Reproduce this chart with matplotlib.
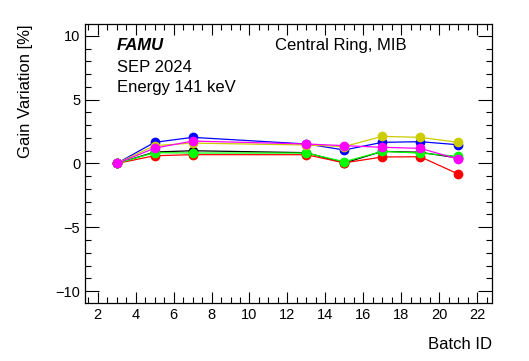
import matplotlib
matplotlib.use("Agg")
import matplotlib.pyplot as plt
from matplotlib.ticker import MultipleLocator

plt.rcParams['font.family'] = ['Liberation Sans', 'DejaVu Sans']

batch = [3, 5, 7, 13, 15, 17, 19, 21]

# gain variation [%] per channel
black = [0.0, 0.90, 1.00, 0.85, 0.04, 0.95, 0.88, 0.43]
red = [0.0, 0.61, 0.69, 0.69, 0.05, 0.51, 0.53, -0.82]
green = [0.0, 0.85, 0.82, 0.82, 0.14, 0.95, 0.82, 0.56]
blue = [0.0, 1.66, 2.05, 1.53, 1.06, 1.66, 1.71, 1.47]
yellow = [0.0, 1.40, 1.60, 1.45, 1.33, 2.13, 2.05, 1.66]
magenta = [0.0, 1.20, 1.76, 1.53, 1.40, 1.27, 1.19, 0.35]

series = [
    (black, 'black'),
    (red, '#ff0000'),
    (green, '#00ff00'),
    (blue, '#0000ff'),
    (yellow, '#cccc00'),
    (magenta, '#ff00ff'),
]

fig = plt.figure(figsize=(5.29, 3.61), dpi=100)
ax = fig.add_axes([0.1607, 0.1607, 0.7688, 0.7728])

for vals, col in series:
    ax.plot(batch, vals, color=col, lw=0.9, marker='o', ms=6, mec=col, mfc=col)

ax.set_xlim(1.33, 22.77)
ax.set_ylim(-10.94, 10.94)
ax.xaxis.set_major_locator(MultipleLocator(2))
ax.xaxis.set_minor_locator(MultipleLocator(0.5))
ax.yaxis.set_major_locator(MultipleLocator(5))
ax.yaxis.set_minor_locator(MultipleLocator(1))
ax.tick_params(which='both', direction='in', top=True, right=True, labelsize=10.5, width=0.8)
ax.tick_params(which='major', length=8)
ax.tick_params(which='minor', length=4)
ax.tick_params(axis='y', which='major', length=10)
for s in ax.spines.values():
    s.set_linewidth(0.9)

ax.set_xlabel('Batch ID', fontsize=12, loc='right', labelpad=11)
ax.set_ylabel('Gain Variation [%]', fontsize=12, loc='top', labelpad=16)

fig.text(0.2205, 0.8726, 'FAMU', fontsize=12, fontweight='bold', fontstyle='italic', va='center')
fig.text(0.2205, 0.8135, 'SEP 2024', fontsize=12, va='center')
fig.text(0.2205, 0.757, 'Energy 141 keV', fontsize=12, va='center')
fig.text(0.52, 0.8726, 'Central Ring, MIB', fontsize=12, va='center')

fig.savefig('out.png', dpi=100)
